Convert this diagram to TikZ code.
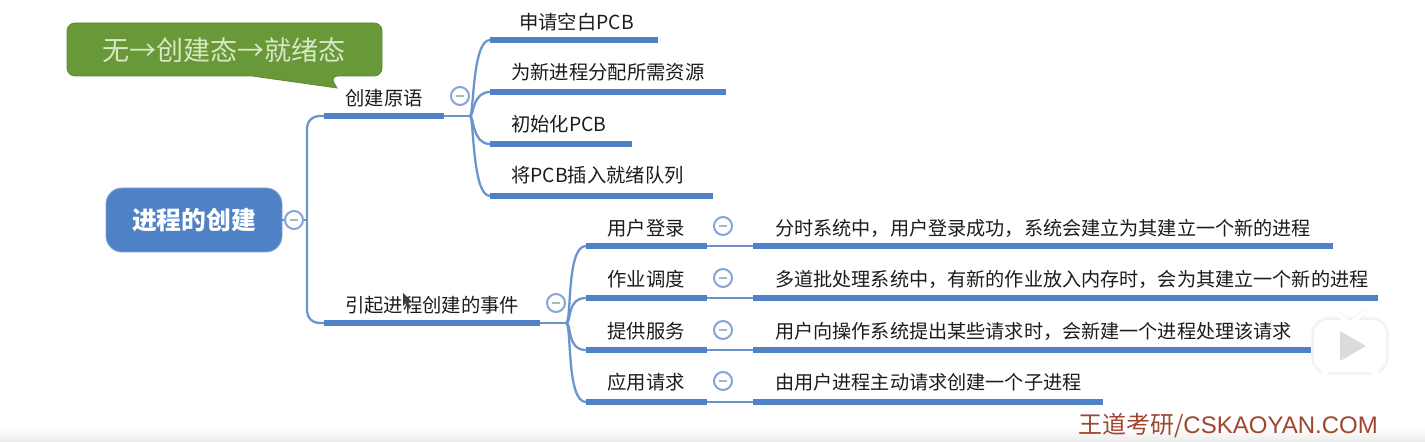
\documentclass[tikz,border=0pt]{standalone}
\usepackage{fontspec}
\setmainfont{Noto Sans CJK SC}
\newfontfamily\wmlatin{Liberation Sans}
\usetikzlibrary{shapes.geometric}
\definecolor{barblue}{HTML}{4F81C6}
\definecolor{lineblue}{HTML}{6B93CE}
\definecolor{ringblue}{HTML}{85A5D8}
\definecolor{minusgrey}{HTML}{A9B4C6}
\definecolor{inkdark}{HTML}{1C1C1C}
\definecolor{calloutgreen}{HTML}{689838}
\definecolor{calloutedge}{HTML}{5E8A35}
\definecolor{callouttext}{HTML}{D6E8C4}
\definecolor{wmred}{HTML}{A0452E}
\tikzset{
  x=0.75pt,y=-0.75pt,
  rootbox/.style={fill=barblue,draw=ringblue,line width=0.6pt,rounded corners=12pt,minimum width=132pt,minimum height=48pt,inner sep=0pt,text=white,font=\fontsize{18.6}{18.6}\selectfont\bfseries},
  lbl/.style={text=inkdark,font=\fontsize{14.5}{14.5}\selectfont,inner sep=0pt},
  lblw/.style={lbl,anchor=west},
  descr/.style={lblw,font=\fontsize{14.35}{14.35}\selectfont},
  barline/.style={barblue,line width=4.4pt},
  thin line/.style={lineblue,line width=1.7pt},
  curveline/.style={lineblue,line width=1.7pt},
  ring/.style={circle,draw=ringblue,fill=white,line width=1.5pt,minimum size=13.5pt,inner sep=0pt,
    path picture={\draw[minusgrey,line width=1.2pt] ([xshift=-3pt]path picture bounding box.center) -- ([xshift=3pt]path picture bounding box.center);}},
}
\begin{document}
\begin{tikzpicture}
\useasboundingbox (0,0) rectangle (1425,442);
\fill[white] (0,0) rectangle (1425,442);
\shade[top color=white,bottom color=black!8] (0,428) rectangle (1425,442);

% callout
\draw[fill=calloutgreen,draw=calloutedge,line width=0.6pt,rounded corners=6pt]
  (67,23) -- (382,23) -- (382,76) -- (330,76) [sharp corners] -- (337,88) -- (252,76) [rounded corners=6pt] -- (67,76) -- cycle;
\node[inner sep=0pt,text=callouttext,font=\fontsize{20.3}{20.3}\selectfont] (note) at (224,50) {无→创建态→就绪态};

% root
\node[rootbox] (root) at (194,220) {\raisebox{-1.5pt}{进程的创建}};
\node[ring] (rootring) at (294,220) {};
\coordinate (tA) at (324,116);
\coordinate (tB) at (324,323);
\coordinate (tM) at (307,220);

% level one
\coordinate (aR) at (444,116);
\coordinate (aH) at (470,116);
\coordinate (bR) at (540,323);
\coordinate (bH) at (566,323);
\draw[thin line] (root.east) -- (rootring);
\draw[thin line] (rootring) -- (tM);
\draw[thin line,rounded corners=9pt] (tA) -| (tM) |- (tB);
\draw[barline] (tA) -- (aR);
\draw[barline] (tB) -- (bR);
\draw[thin line] (aR) -- (aH);
\draw[thin line] (bR) -- (bH);
\node[lbl] (a) at (384,98) {创建原语};
\node[lbl] (b) at (432,305) {引起进程创建的事件};
\node[ring] (aring) at (460,96) {};
\node[ring] (bring) at (556,303) {};

% branch one leaves
\foreach \n/\y/\xe in {a1/40/658,a2/92/726,a3/144/632,a4/196/713}{
  \coordinate (\n L) at (490,\y);
  \coordinate (\n R) at (\xe,\y);
  \draw[curveline] (aH) .. controls (474,116) and (472,\y) .. (\n L);
  \draw[barline] (\n L) -- (\n R);
}
\node[lblw] (a1) at (519,22) {申请空白PCB};
\node[lblw] (a2) at (511,72) {为新进程分配所需资源};
\node[lblw] (a3) at (511,124) {初始化PCB};
\node[lblw] (a4) at (511,175) {将PCB插入就绪队列};

% branch two
\foreach \n/\y/\xe/\t/\ty/\ry/\d in {
  b1/246/1333/用户登录/228/226/分时系统中，用户登录成功，系统会建立为其建立一个新的进程,
  b2/298/1378/作业调度/279/278/多道批处理系统中，有新的作业放入内存时，会为其建立一个新的进程,
  b3/350/1314/提供服务/331/330/用户向操作系统提出某些请求时，会新建一个进程处理该请求,
  b4/402/1103/应用请求/382/381/由用户进程主动请求创建一个子进程}{
  \coordinate (\n L) at (586,\y);
  \coordinate (\n R) at (707,\y);
  \coordinate (\n S) at (753,\y);
  \coordinate (\n E) at (\xe,\y);
  \draw[curveline] (bH) .. controls (572,323) and (566,\y) .. (\n L);
  \draw[barline] (\n L) -- (\n R);
  \draw[thin line] (\n R) -- (\n S);
  \draw[barline] (\n S) -- (\n E);
  \node[lbl] (\n t) at (646,\ty) {\t};
  \node[ring] (\n r) at (723,\ry) {};
  \node[descr] (\n d) at (775,\ty) {\d};
}

% mouse pointer
\fill[black!75] (403,293) -- (403,306) -- (406,303) -- (409,309) -- (410,308) -- (408,302) -- (412,302) -- cycle;

% player logo
\foreach \w/\c in {4.5/3,3/5}{
  \draw[black!\c,line width=\w pt,line cap=round] (1335,312) -- (1348,322);
  \draw[black!\c,line width=\w pt,line cap=round] (1365,312) -- (1352,322);
  \draw[black!\c,line width=\w pt,rounded corners=10.5pt] (1314,320) rectangle (1386,372);
}
\draw[white,line width=3.2pt,line cap=round] (1335,312) -- (1348,322);
\draw[white,line width=3.2pt,line cap=round] (1365,312) -- (1352,322);
\fill[white,rounded corners=10.5pt] (1314,320) rectangle (1386,372);
\fill[white] (1325,372) circle[radius=4];
\fill[white] (1375,372) circle[radius=4];
\fill[black!14,rounded corners=1pt] (1340,331) -- (1366,346) -- (1340,361) -- cycle;

% watermark
\node[inner sep=0pt,anchor=east,text=wmred,font=\fontsize{18}{18}\selectfont] (wm) at (1378,426) {王道考研/{\wmlatin CSKAOYAN.COM}};
\end{tikzpicture}
\end{document}
